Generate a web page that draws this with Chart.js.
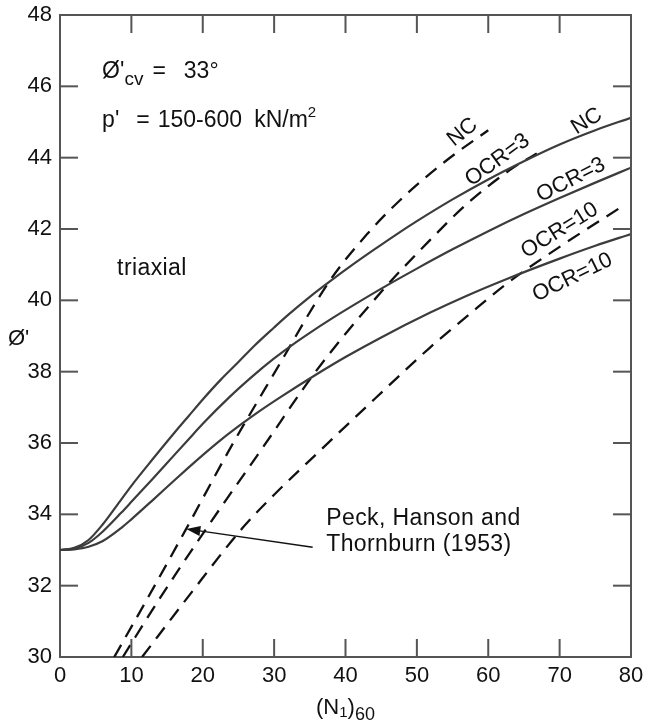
<!DOCTYPE html>
<html>
<head>
<meta charset="utf-8">
<script src="https://cdn.jsdelivr.net/npm/chart.js@4.4.1/dist/chart.umd.min.js"></script>
<style>
  html, body { margin: 0; padding: 0; background: #fff; }
  #chart { display: block; }
</style>
</head>
<body>
<canvas id="chart" width="646" height="727"></canvas>
<script>
const FONT = "'Liberation Sans', Arial, Helvetica, sans-serif";
const AXIS_COLOR = "#555";
const SOLID_COLOR = "#3c3c3c";
const DASH_COLOR = "#111";
const TEXT_COLOR = "#111";

// axis ticks
const xTicks = [0, 10, 20, 30, 40, 50, 60, 70, 80];
const yTicks = [30, 32, 34, 36, 38, 40, 42, 44, 46, 48];

// triaxial curves, phi' against (N1)60
const ncN = [0, 2, 4, 6, 8.6, 10, 13, 16, 18, 20, 22.5, 25, 27.2, 30, 32, 35, 38, 41, 44, 47, 50, 55, 60, 65, 70, 75, 80];
const ncPhi = [33, 33.06, 33.28, 33.72, 34.42, 34.8, 35.55, 36.28, 36.75, 37.22, 37.77, 38.27, 38.72, 39.24, 39.6, 40.1, 40.56, 41.0, 41.42, 41.83, 42.22, 42.83, 43.39, 43.9, 44.37, 44.77, 45.12];

const ocr3N = [0, 2, 4, 6, 8.6, 10, 13, 16, 18, 20, 23.7, 27.2, 30, 32.6, 35, 38, 42, 45.2, 50, 55, 60, 65, 70, 75, 80];
const ocr3Phi = [33, 33.04, 33.2, 33.52, 34.05, 34.35, 35.0, 35.66, 36.1, 36.54, 37.28, 37.91, 38.37, 38.76, 39.09, 39.48, 39.97, 40.35, 40.89, 41.43, 41.94, 42.42, 42.87, 43.3, 43.72];

const ocr10N = [0, 2, 4, 6, 8.6, 10, 13, 16, 18, 20, 22.5, 25.5, 28, 31, 35.9, 40, 45, 51.8, 57, 62.6, 70, 75, 80];
const ocr10Phi = [33, 33.02, 33.09, 33.25, 33.62, 33.86, 34.4, 34.95, 35.31, 35.66, 36.08, 36.54, 36.9, 37.3, 37.92, 38.41, 38.96, 39.65, 40.13, 40.6, 41.17, 41.53, 41.86];

// Peck, Hanson and Thornburn (1953)
const peckNcN = [7.6, 12, 17.7, 23.7, 30, 37.8, 43, 47.6, 54, 60];
const peckNcPhi = [30, 31.55, 33.6, 35.8, 37.95, 40.55, 41.85, 42.8, 43.9, 44.77];

const peckOcr3N = [8.8, 14, 20.5, 28.4, 36, 45.2, 51.8, 57, 63, 66.8];
const peckOcr3Phi = [30, 31.65, 33.6, 35.87, 38.05, 40.28, 41.68, 42.7, 43.65, 44.12];

const peckOcr10N = [11.5, 18, 25.5, 30, 36.4, 44, 51.8, 57, 62.6, 70, 78.5];
const peckOcr10Phi = [30, 31.7, 33.6, 34.55, 35.78, 37.22, 38.67, 39.55, 40.47, 41.5, 42.6];

// text placed on the plot, anchored in axis units
const curveLabels = [
  { text: "NC", x: 56.4, y: 44.71, rot: -39 },
  { text: "NC", x: 73.8, y: 45.02, rot: -32 },
  { text: "OCR=3", x: 61.3, y: 43.93, rot: -36 },
  { text: "OCR=3", x: 71.6, y: 43.37, rot: -27 },
  { text: "OCR=10", x: 70.0, y: 41.96, rot: -32 },
  { text: "OCR=10", x: 71.8, y: 40.64, rot: -26 },
];
const noteLines = [
  { text: "triaxial", x: 8.0, y: 40.9 },
  { text: "Peck, Hanson and", x: 37.3, y: 33.87 },
  { text: "Thornburn (1953)", x: 37.3, y: 33.14 },
];
const arrowFrom = { x: 35.4, y: 33.08 };
const arrowTo = { x: 17.7, y: 33.59 };

function toPoints(xs, ys) {
  return xs.map((v, i) => ({ x: v, y: ys[i] }));
}

function solidSet(label, xs, ys) {
  return {
    label: label,
    data: toPoints(xs, ys),
    borderColor: SOLID_COLOR,
    borderWidth: 2.2,
    pointRadius: 0,
    showLine: true,
    cubicInterpolationMode: "monotone",
  };
}

function dashedSet(label, xs, ys) {
  return {
    label: label,
    data: toPoints(xs, ys),
    borderColor: DASH_COLOR,
    borderWidth: 2.3,
    borderDash: [14, 9],
    pointRadius: 0,
    showLine: true,
    cubicInterpolationMode: "monotone",
  };
}

// text made of runs: size, optional vertical shift and gap before it
function drawRuns(ctx, runs, x, y, measureOnly) {
  let cx = x;
  runs.forEach((r) => {
    cx += r.pad || 0;
    ctx.font = r.size + "px " + FONT;
    if (!measureOnly) ctx.fillText(r.t, cx, y + (r.dy || 0));
    cx += ctx.measureText(r.t).width;
  });
  return cx - x;
}

const decorations = {
  id: "decorations",
  afterDraw(chart) {
    const ctx = chart.ctx;
    const area = chart.chartArea;
    const sx = chart.scales.x;
    const sy = chart.scales.y;
    const tickLen = 18;

    ctx.save();
    ctx.fillStyle = AXIS_COLOR;
    // frame top and right
    ctx.fillRect(area.left, area.top - 1, area.right - area.left + 1, 2);
    ctx.fillRect(area.right - 1, area.top - 1, 2, area.bottom - area.top + 1);

    // inward ticks on every side, at the scales' own tick values
    const xs = sx.ticks.map((t) => t.value).filter((v) => v > sx.min && v < sx.max);
    const ys = sy.ticks.map((t) => t.value).filter((v) => v > sy.min && v < sy.max);
    for (let k = 0; k < xs.length; k++) {
      const px = sx.getPixelForValue(xs[k]);
      ctx.fillRect(px - 1, area.bottom - tickLen, 2, tickLen);
      ctx.fillRect(px - 1, area.top, 2, tickLen);
    }
    for (let k = 0; k < ys.length; k++) {
      const py = sy.getPixelForValue(ys[k]);
      ctx.fillRect(area.left, py - 1, tickLen, 2);
      ctx.fillRect(area.right - tickLen, py - 1, tickLen, 2);
    }

    ctx.fillStyle = TEXT_COLOR;
    ctx.textBaseline = "middle";
    ctx.textAlign = "left";

    // constants of the figure
    const tx = sx.getPixelForValue(5.9);
    drawRuns(ctx, [
      { t: "Ø'", size: 23 },
      { t: "cv", size: 19, dy: 8 },
      { t: "=", size: 23, pad: 9 },
      { t: "33°", size: 23, pad: 18 },
    ], tx, sy.getPixelForValue(46.4));
    drawRuns(ctx, [
      { t: "p'", size: 23 },
      { t: "=", size: 23, pad: 17 },
      { t: "150-600", size: 23, pad: 8 },
      { t: "kN/m", size: 23, pad: 12 },
      { t: "2", size: 15, dy: -7 },
    ], tx, sy.getPixelForValue(45.05));

    ctx.font = "23px " + FONT;
    ctx.letterSpacing = "0.4px";
    noteLines.forEach((n) => {
      ctx.fillText(n.text, sx.getPixelForValue(n.x), sy.getPixelForValue(n.y));
    });
    ctx.letterSpacing = "0px";

    // arrow to the dashed curves
    const ax0 = sx.getPixelForValue(arrowFrom.x);
    const ay0 = sy.getPixelForValue(arrowFrom.y);
    const ax1 = sx.getPixelForValue(arrowTo.x);
    const ay1 = sy.getPixelForValue(arrowTo.y);
    const ang = Math.atan2(ay1 - ay0, ax1 - ax0);
    const cos = Math.cos(ang);
    const sin = Math.sin(ang);
    ctx.strokeStyle = "#111";
    ctx.lineWidth = 1.5;
    ctx.beginPath();
    ctx.moveTo(ax0, ay0);
    ctx.lineTo(ax1 - 10 * cos, ay1 - 10 * sin);
    ctx.stroke();
    ctx.beginPath();
    ctx.moveTo(ax1, ay1);
    ctx.lineTo(ax1 - 14 * cos + 5 * sin, ay1 - 14 * sin - 5 * cos);
    ctx.lineTo(ax1 - 14 * cos - 5 * sin, ay1 - 14 * sin + 5 * cos);
    ctx.closePath();
    ctx.fill();

    // curve names along the lines
    ctx.textAlign = "center";
    ctx.font = "22px " + FONT;
    curveLabels.forEach((c) => {
      ctx.save();
      ctx.translate(sx.getPixelForValue(c.x), sy.getPixelForValue(c.y));
      ctx.rotate((c.rot * Math.PI) / 180);
      ctx.fillText(c.text, 0, 0);
      ctx.restore();
    });

    // axis titles
    ctx.textAlign = "left";
    const xRuns = [
      { t: "(N", size: 22 },
      { t: "1", size: 15, dy: 5 },
      { t: ")", size: 22 },
      { t: "60", size: 18, dy: 7 },
    ];
    const w = drawRuns(ctx, xRuns, 0, 0, true);
    drawRuns(ctx, xRuns, (area.left + area.right) / 2 - w / 2, 708);
    drawRuns(ctx, [{ t: "Ø'", size: 22 }], 8, sy.getPixelForValue(38.93));

    ctx.restore();
  },
};

function fixPadding(axis) {
  axis.paddingTop = 0;
  axis.paddingBottom = 0;
  axis.paddingLeft = 0;
  axis.paddingRight = 0;
}

new Chart(document.getElementById("chart"), {
  type: "scatter",
  data: {
    datasets: [
      solidSet("NC", ncN, ncPhi),
      solidSet("OCR=3", ocr3N, ocr3Phi),
      solidSet("OCR=10", ocr10N, ocr10Phi),
      dashedSet("NC (Peck et al.)", peckNcN, peckNcPhi),
      dashedSet("OCR=3 (Peck et al.)", peckOcr3N, peckOcr3Phi),
      dashedSet("OCR=10 (Peck et al.)", peckOcr10N, peckOcr10Phi),
    ],
  },
  options: {
    responsive: false,
    animation: false,
    devicePixelRatio: 1,
    layout: { padding: { top: 15, right: 15, left: 0, bottom: 0 } },
    plugins: {
      legend: { display: false },
      tooltip: { enabled: false },
    },
    scales: {
      x: {
        type: "linear",
        min: 0,
        max: 80,
        afterBuildTicks: (axis) => { axis.ticks = xTicks.map((v) => ({ value: v })); },
        afterFit: (axis) => { axis.height = 70; fixPadding(axis); },
        grid: { display: false, drawTicks: false },
        border: { display: true, color: AXIS_COLOR, width: 2 },
        ticks: { color: TEXT_COLOR, font: { family: FONT, size: 22 }, padding: 6, maxRotation: 0 },
      },
      y: {
        type: "linear",
        min: 30,
        max: 48,
        afterBuildTicks: (axis) => { axis.ticks = yTicks.map((v) => ({ value: v })); },
        afterFit: (axis) => { axis.width = 60; fixPadding(axis); },
        grid: { display: false, drawTicks: false },
        border: { display: true, color: AXIS_COLOR, width: 2 },
        ticks: { color: TEXT_COLOR, font: { family: FONT, size: 22 }, padding: 8 },
      },
    },
  },
  plugins: [decorations],
});
</script>
</body>
</html>
